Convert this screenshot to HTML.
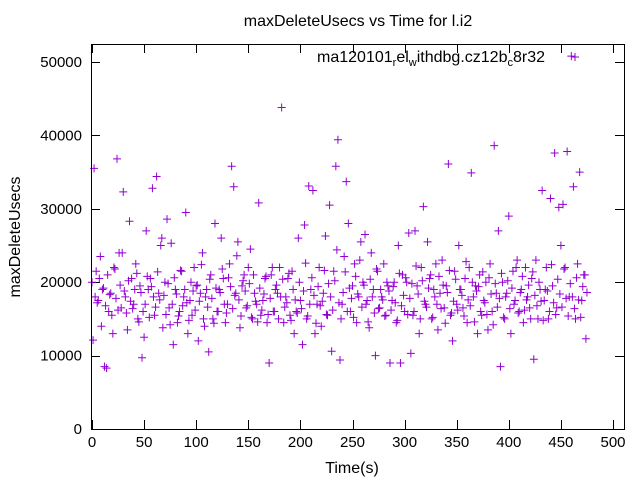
<!DOCTYPE html>
<html><head><meta charset="utf-8"><style>
html,body{margin:0;padding:0;background:#fff}
svg{display:block;font-family:"Liberation Sans",sans-serif}
</style></head><body>
<svg id="chart" width="640" height="480" viewBox="0 0 640 480" xmlns="http://www.w3.org/2000/svg">
<rect width="640" height="480" fill="#fff"/>
<text x="358" y="26" font-size="16" text-anchor="middle">maxDeleteUsecs vs Time for l.i2</text>
<text transform="translate(20,237) rotate(-90)" font-size="16" text-anchor="middle">maxDeleteUsecs</text>
<text x="352" y="473" font-size="16" text-anchor="middle">Time(s)</text>
<g id="axes"></g>
<g id="points"></g>
<text x="545" y="62" font-size="16" text-anchor="end">ma120101<tspan font-size="11" dy="4">r</tspan><tspan dy="-4">el</tspan><tspan font-size="11" dy="4">w</tspan><tspan dy="-4">ithdbg.cz12b</tspan><tspan font-size="11" dy="4">c</tspan><tspan dy="-4">8r32</tspan></text>
<g stroke="#9400d3" stroke-width="1"><line x1="571" y1="57" x2="579" y2="57"/><line x1="575" y1="53" x2="575" y2="61"/></g>
<rect x="91.5" y="44.5" width="533" height="385" fill="none" stroke="#000" stroke-width="1"/>
</svg>
<script>
const xTicks=[0,50,100,150,200,250,300,350,400,450,500];
const yTicks=[0,10000,20000,30000,40000,50000];
const times=[];
const values=[20000,35500,21500,17500,23500,19000,8500,8300,16000,18500,
13000,21800,36800,24000,16500,32300,18000,13500,28300,20500,
17000,22500,15000,19500,9700,12500,27000,19000,20500,32800,
15500,34400,18500,25000,13800,20000,28600,16500,25300,11500,
19000,14500,16000,21500,18000,29500,13000,17500,15500,22000,
19500,12000,18500,24000,14000,19000,10500,21000,15000,28000,
16000,19000,26000,20500,14500,17000,22500,35800,33000,18500,
25500,13800,19500,21000,16500,22000,24500,15000,18500,17000,
30800,15500,17500,20500,14500,9000,21000,16000,19000,18500,
22000,43800,14500,18000,20500,15500,21500,13000,16000,26000,
17500,11500,27800,15000,33100,19000,32500,13000,17000,22000,
14000,18500,26300,15500,30500,10600,21500,35800,39400,9400,
17000,23500,33700,28000,16000,19500,22500,14500,18000,25500,
20000,26500,17500,13800,24000,19000,10000,21500,16500,18000,
22500,15500,19500,9000,17500,20000,14500,25000,9000,21000,
16000,20000,26700,10300,15500,27000,19500,13000,22000,30300,
17000,25500,20500,15000,19000,22500,13500,18500,23000,16500,
19500,36100,15500,12000,21500,17000,25000,19000,16500,20500,
14500,22000,34900,18000,19500,13000,21000,15500,17500,20000,
13500,22500,16000,38600,18500,27000,8500,20000,15000,18500,
29000,13000,21500,17500,23000,16000,19000,14500,22000,18000,
16500,20500,9500,23000,15000,19000,32500,17500,22000,15000,
31400,19500,37600,16500,30200,25000,30600,22000,37800,18000,
50800,33000,15000,22500,35000,17500,21000,12300];
const oddValues=[12100,18000,17200,20500,14000,19200,16800,21000,18300,15500,
22000,17800,16200,19600,24000,18800,15800,20200,17400,16400,
19000,21200,14600,18600,16000,17000,20800,15200,19400,18000,
16600,21400,17600,26000,18200,15600,19800,14200,17000,20600,
18400,15400,21600,16800,19000,17200,14800,20000,18800,16200,
19600,17400,22400,15000,18000,16600,20400,17800,14400,19200,
16000,18600,21800,17000,15800,20600,19400,16400,18200,23600,
17600,15400,20200,18800,16800,19800,15200,21000,17400,14600,
19200,16200,18400,20800,15600,17800,22000,16000,19600,15000,
18000,20400,16600,17200,21200,14800,19000,17600,15800,20000,
16400,18800,22600,15400,17000,20600,18200,14400,19400,16800,
17400,21600,15600,19800,18000,16200,20200,24400,17200,15000,
18600,21400,16000,19200,17800,15200,20800,18400,23000,16600,
19600,17000,14600,20400,18000,15800,21800,16400,19000,17600,
15400,20000,18800,16200,19400,17200,14800,21200,16800,18200,
20600,15600,17800,19800,16000,22200,18400,15000,20200,17400,
16600,19200,21000,15200,18000,17000,20800,16400,19600,14400,
18600,21600,15800,17400,20400,16200,19000,18200,15400,22800,
17600,16800,20000,14600,18800,19400,16000,21400,17200,15600,
20600,18400,14200,19800,16600,17800,21200,15200,18000,20200,
16400,19200,17000,22000,15800,18600,20800,16200,17600,19600,
15000,21400,18200,16800,20000,17400,14800,19000,18800,16000,
22400,17200,15600,20400,18400,16600,21800,17800,15400,19800,
18000,16400,20600,17600,15200,19400,21000,18600];
for(let i=0;i<values.length;i++) times.push(i*2);
const oddTimes=[];
for(let i=0;i<oddValues.length;i++) oddTimes.push(i*2+1);
const X0=92,X1=613,Y0=429,Y1=62;
const sx=v=>X0+(v-0)/(500-0)*(X1-X0);
const sy=v=>Y0-(v-0)/(50000-0)*(Y0-Y1);
const NS="http://www.w3.org/2000/svg";
const axes=document.getElementById('axes');
function mk(tag,attrs,parent){const e=document.createElementNS(NS,tag);for(const k in attrs)e.setAttribute(k,attrs[k]);parent.appendChild(e);return e;}
xTicks.forEach(t=>{
  const x=Math.round(sx(t))+0.5;
  const l1=mk('line',{x1:x,y1:429,x2:x,y2:420,stroke:'#000'},axes);
  
  
  const l2=mk('line',{x1:x,y1:44,x2:x,y2:53,stroke:'#000'},axes);
  
  
  const tx=mk('text',{x:sx(t),y:447,'font-size':15,'text-anchor':'middle'},axes);
  tx.textContent=t;
  
  
});
yTicks.forEach(t=>{
  const y=Math.round(sy(t))+0.5;
  const l1=mk('line',{x1:91,y1:y,x2:100,y2:y,stroke:'#000'},axes);
  
  
  const l2=mk('line',{x1:624,y1:y,x2:615,y2:y,stroke:'#000'},axes);
  
  
  const tx=mk('text',{x:82,y:sy(t)+5,'font-size':15,'text-anchor':'end'},axes);
  tx.textContent=t;
  
  
});
const pts=document.getElementById('points');
function plot(ts,vs){
  vs.forEach((v,i)=>{
    const x=sx(ts[i]),y=sy(v);
    const p=mk('path',{d:`M${x-4} ${y}H${x+4}M${x} ${y-4}V${y+4}`,stroke:'#9400d3','stroke-width':1,fill:'none'},pts);
    
    
  });
}
plot(times,values);
plot(oddTimes,oddValues);
</script>
</body></html>
